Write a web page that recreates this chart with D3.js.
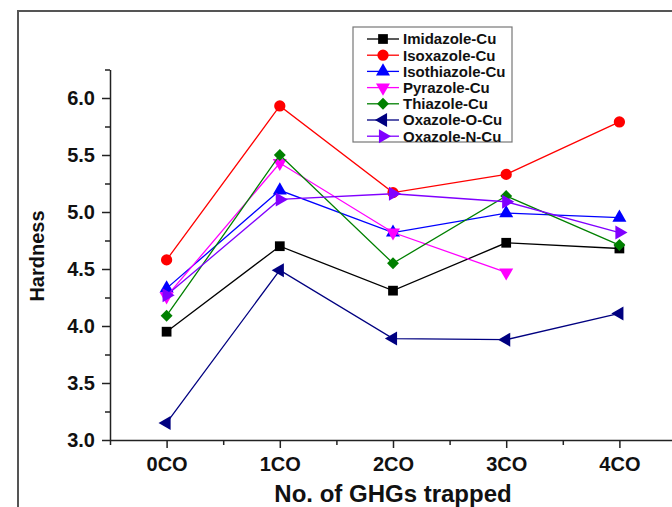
<!DOCTYPE html>
<html>
<head>
<meta charset="utf-8">
<script src="https://cdn.jsdelivr.net/npm/d3@7/dist/d3.min.js"></script>
<style>
  body { margin: 0; background: #fff; }
  svg { display: block; font-family: Arial, "Liberation Sans", sans-serif; }
</style>
</head>
<body>
<div id="chart"></div>
<script>
var width = 672;
var height = 507;

// data
var categories = ["0CO", "1CO", "2CO", "3CO", "4CO"];
var yTicks = [3.0, 3.5, 4.0, 4.5, 5.0, 5.5, 6.0];
var imidazole = [3.95, 4.70, 4.31, 4.73, 4.68];
var isoxazole = [4.58, 5.93, 5.17, 5.33, 5.79];
var isothiazole = [4.33, 5.19, 4.82, 4.99, 4.95];
var pyrazole = [4.26, 5.43, 4.82, 4.47, null];
var thiazole = [4.09, 5.50, 4.55, 5.14, 4.71];
var oxazoleO = [3.15, 4.49, 3.89, 3.88, 4.11];
var oxazoleN = [4.27, 5.11, 5.16, 5.09, 4.82];

var series = [
    {name: "Imidazole-Cu", values: imidazole, color: "#000000", symbol: d3.symbolSquare, size: 95, rot: 0},
    {name: "Isoxazole-Cu", values: isoxazole, color: "#ff0000", symbol: d3.symbolCircle, size: 100, rot: 0},
    {name: "Isothiazole-Cu", values: isothiazole, color: "#0000ff", symbol: d3.symbolTriangle, size: 85, rot: 0},
    {name: "Pyrazole-Cu", values: pyrazole, color: "#ff00ff", symbol: d3.symbolTriangle, size: 85, rot: 180},
    {name: "Thiazole-Cu", values: thiazole, color: "#008000", symbol: d3.symbolDiamond2, size: 90, rot: 0},
    {name: "Oxazole-O-Cu", values: oxazoleO, color: "#000080", symbol: d3.symbolTriangle, size: 85, rot: -90},
    {name: "Oxazole-N-Cu", values: oxazoleN, color: "#8000ff", symbol: d3.symbolTriangle, size: 85, rot: 90}
];

var svg = d3.select("#chart").append("svg")
    .attr("width", width)
    .attr("height", height);

// outer frame (cropped at right and bottom)
svg.append("path")
    .attr("d", "M18," + height + " V11 H" + width)
    .attr("fill", "none")
    .attr("stroke", "#555")
    .attr("stroke-width", 2);

var x = d3.scaleLinear().domain([-0.5, 4.5]).range([110, 676]);
var y = d3.scaleLinear().domain([3, 6.25]).range([440, 69.5]);

// minor ticks
var yMinor = d3.range(3.25, 6.3, 0.5);
var xMinor = [-0.5, 0.5, 1.5, 2.5, 3.5];

svg.append("g")
    .attr("transform", "translate(110,0)")
    .call(d3.axisLeft(y).tickValues(yMinor).tickSize(5).tickSizeOuter(0).tickFormat(""))
    .call(function(g) { g.select(".domain").remove(); });

svg.append("g")
    .attr("transform", "translate(0,440)")
    .call(d3.axisBottom(x).tickValues(xMinor).tickSize(5).tickSizeOuter(0).tickFormat(""))
    .call(function(g) { g.select(".domain").remove(); });

var yAxis = svg.append("g")
    .attr("transform", "translate(110,0)")
    .call(d3.axisLeft(y).tickValues(yTicks).tickSize(8).tickSizeOuter(0).tickPadding(7)
        .tickFormat(d3.format(".1f")));

var xAxis = svg.append("g")
    .attr("transform", "translate(0,440)")
    .call(d3.axisBottom(x).tickValues(d3.range(categories.length)).tickSize(8).tickSizeOuter(0).tickPadding(9)
        .tickFormat(function(d) { return categories[d]; }));

svg.selectAll(".tick line").attr("stroke", "#222").attr("stroke-width", 1.5);
svg.selectAll(".domain").attr("stroke", "#222").attr("stroke-width", 1.5);
svg.selectAll(".tick text")
    .attr("fill", "#111")
    .style("font-size", "20px")
    .style("font-weight", "bold")
    .style("font-family", "Arial, 'Liberation Sans', sans-serif");

// axis titles
svg.append("text")
    .attr("x", 393)
    .attr("y", 502)
    .attr("text-anchor", "middle")
    .style("font-size", "24px")
    .style("font-weight", "bold")
    .attr("fill", "#111")
    .text("No. of GHGs trapped");

svg.append("text")
    .attr("transform", "translate(44,256) rotate(-90)")
    .attr("text-anchor", "middle")
    .style("font-size", "20px")
    .style("font-weight", "bold")
    .attr("fill", "#111")
    .text("Hardness");

var line = d3.line()
    .defined(function(d) { return d != null; })
    .x(function(d, i) { return x(i); })
    .y(function(d) { return y(d); });

series.forEach(function(s) {
    var g = svg.append("g");
    g.append("path")
        .datum(s.values)
        .attr("d", line)
        .attr("fill", "none")
        .attr("stroke", s.color)
        .attr("stroke-width", 1.3);

    g.selectAll("path.pt")
        .data(s.values.map(function(v, i) { return {v: v, i: i}; })
            .filter(function(d) { return d.v != null; }))
        .enter().append("path")
        .attr("class", "pt")
        .attr("d", d3.symbol().type(s.symbol).size(s.size))
        .attr("fill", s.color)
        .attr("transform", function(d) {
            return "translate(" + x(d.i) + "," + y(d.v) + ") rotate(" + s.rot + ")";
        });
});

// legend
var lg = svg.append("g").attr("transform", "translate(353,27)");
lg.append("rect")
    .attr("width", 159)
    .attr("height", 115)
    .attr("fill", "#fff")
    .attr("stroke", "#777")
    .attr("stroke-width", 1.2);

var row = lg.selectAll("g.row")
    .data(series)
    .enter().append("g")
    .attr("class", "row")
    .attr("transform", function(d, i) { return "translate(0," + (12 + i * 16.2) + ")"; });

row.append("line")
    .attr("x1", 14).attr("x2", 46)
    .attr("stroke", function(d) { return d.color; })
    .attr("stroke-width", 1.3);

row.append("path")
    .attr("d", function(d) { return d3.symbol().type(d.symbol).size(d.size)(); })
    .attr("fill", function(d) { return d.color; })
    .attr("transform", function(d) { return "translate(30,0) rotate(" + d.rot + ")"; });

row.append("text")
    .attr("x", 50)
    .attr("dy", "0.36em")
    .style("font-size", "15px")
    .style("font-weight", "bold")
    .attr("fill", "#111")
    .text(function(d) { return d.name; });
</script>
</body>
</html>
